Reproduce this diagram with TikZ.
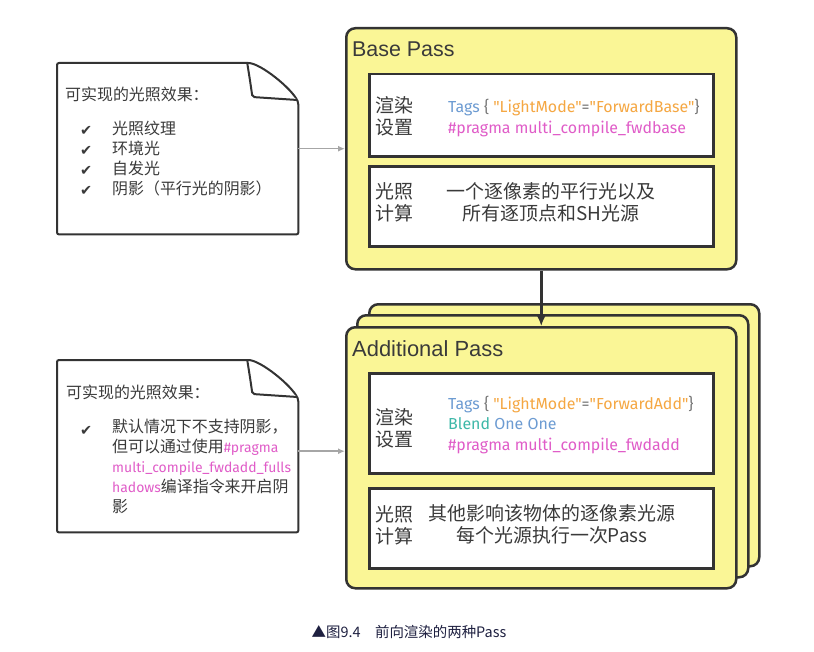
\documentclass[tikz,border=0pt]{standalone}
\usepackage{fontspec}
\usetikzlibrary{arrows.meta}
\setmainfont{Liberation Sans}
\newfontfamily\cjk{Noto Sans CJK SC}
\newfontfamily\codefont{Fira Sans}
\newfontfamily\sym{DejaVu Sans}

\definecolor{linegray}{HTML}{333333}
\definecolor{textgray}{HTML}{3A3A3A}
\definecolor{passyellow}{RGB}{250,246,150}
\definecolor{codeblue}{HTML}{6C9BD2}
\definecolor{codeorange}{HTML}{F5A742}
\definecolor{codepink}{HTML}{E05CC8}
\definecolor{codeteal}{HTML}{3DB8A8}
\definecolor{codegray}{HTML}{777777}
\definecolor{captionblue}{HTML}{1E2040}

% folded paper outline round an empty node
\newcommand{\foldnote}[1]{%
  \draw[noteline] (#1.north west) -- ([shift={(-52,0)}]#1.north east)
    .. controls ([shift={(-38,0)}]#1.north east) and ([shift={(-6,26)}]#1.north east)
    .. ([shift={(0,40)}]#1.north east) -- (#1.south east) -- (#1.south west) -- cycle;
  \draw[noteline] ([shift={(-51,1)}]#1.north east)
    .. controls ([shift={(-48,20)}]#1.north east) .. ([shift={(-46,34)}]#1.north east)
    -- ([shift={(-1,37)}]#1.north east);
}

\begin{document}
\begin{tikzpicture}[x=1bp, y=-1bp,
    passbox/.style={draw=linegray, line width=2.5bp, fill=passyellow,
      rounded corners=9bp, anchor=north west, inner sep=0pt},
    innerbox/.style={draw=linegray, line width=2.5bp, fill=white,
      anchor=north west, inner sep=0pt},
    notebox/.style={anchor=north west, inner sep=0pt},
    noteline/.style={draw=linegray, line width=2bp, fill=white, rounded corners=2bp},
    passtitle/.style={font=\fontsize{21.5}{24}\selectfont, text=textgray,
      anchor=base west, inner sep=0pt},
    sidelabel/.style={font=\cjk\fontsize{19}{22}\selectfont, text=textgray,
      align=left, anchor=west, inner sep=0pt},
    codelines/.style={font=\codefont\fontsize{16}{20.5}\selectfont,
      align=left, anchor=west, inner sep=0pt},
    bodytext/.style={font=\cjk\fontsize{19}{22}\selectfont, text=textgray,
      align=center, inner sep=0pt},
    notetitle/.style={font=\cjk\fontsize{16}{20}\selectfont, text=textgray,
      anchor=west, inner sep=0pt},
    notelist/.style={font=\cjk\fontsize{16}{20}\selectfont, text=textgray,
      align=left, anchor=north west, inner sep=0pt},
    checkmark/.style={font=\sym\fontsize{14.5}{20}\selectfont, text=textgray,
      anchor=west, inner sep=0pt},
    graylink/.style={draw=black!35, line width=1.5bp, -{Latex[length=7bp,width=6bp]}},
    darklink/.style={draw=linegray, line width=3bp, -{Latex[length=12bp,width=11bp]}}
  ]
  \useasboundingbox (0,0) rectangle (814,652);

  % base pass
  \node[passbox, minimum width=390bp, minimum height=241bp] (base) at (345,27) {};
  \node[passtitle] (basetitle) at (352,57) {Base Pass};
  \node[innerbox, minimum width=344bp, minimum height=82bp] (baseset) at (368,73) {};
  \node[innerbox, minimum width=344bp, minimum height=80bp] (baselight) at (368,165) {};
  \node[sidelabel] (basesetlbl) at (375,116) {渲染\\设置};
  \node[codelines] (basecode) at (448,118) {%
    \textcolor{codeblue}{Tags} \textcolor{codegray}{\{} \textcolor{codeorange}{"LightMode"}\textcolor{codegray}{=}\textcolor{codeorange}{"ForwardBase"}\textcolor{codegray}{\}}\\
    \textcolor{codepink}{\#pragma multi\_compile\_fwdbase}};
  \node[sidelabel] (baselightlbl) at (375,202) {光照\\计算};
  \node[bodytext] (baselighttxt) at (551,202) {一个逐像素的平行光以及\\所有逐顶点和SH光源};

  % additional pass, three stacked sheets
  \node[passbox, minimum width=390bp, minimum height=262bp] (addback) at (368,303) {};
  \node[passbox, minimum width=391bp, minimum height=262bp] (addmid) at (356,314) {};
  \node[passbox, minimum width=390bp, minimum height=261bp] (add) at (345,326) {};
  \node[passtitle, font=\fontsize{22}{24}\selectfont] (addtitle) at (352,356) {Additional Pass};
  \node[innerbox, minimum width=344bp, minimum height=100bp] (addset) at (368,372) {};
  \node[innerbox, minimum width=344bp, minimum height=80bp] (addlight) at (368,487) {};
  \node[sidelabel] (addsetlbl) at (375,428) {渲染\\设置};
  \node[codelines] (addcode) at (448,425) {%
    \textcolor{codeblue}{Tags} \textcolor{codegray}{\{} \textcolor{codeorange}{"LightMode"}\textcolor{codegray}{=}\textcolor{codeorange}{"ForwardAdd"}\textcolor{codegray}{\}}\\
    \textcolor{codeteal}{Blend} \textcolor{codeblue}{One One}\\
    \textcolor{codepink}{\#pragma multi\_compile\_fwdadd}};
  \node[sidelabel] (addlightlbl) at (375,525) {光照\\计算};
  \node[bodytext] (addlighttxt) at (552,524) {其他影响该物体的逐像素光源\\每个光源执行一次Pass};

  \draw[darklink] (base.south) -- (add.north);

  % notes
  \node[notebox, minimum width=241bp, minimum height=171bp] (note1) at (57,63) {};
  \foldnote{note1}
  \node[notetitle] (note1title) at (65,94) {可实现的光照效果：};
  \node[checkmark] (check1) at (80,131) {✔};
  \node[checkmark] (check2) at (80,151) {✔};
  \node[checkmark] (check3) at (80,171) {✔};
  \node[checkmark] (check4) at (80,191) {✔};
  \node[notelist] (note1list) at (112,121) {光照纹理\\环境光\\自发光\\阴影（平行光的阴影）};

  \node[notebox, minimum width=241bp, minimum height=172bp] (note2) at (57,360) {};
  \foldnote{note2}
  \node[notetitle] (note2title) at (66,392) {可实现的光照效果：};
  \node[checkmark] (check5) at (80,431) {✔};
  \node[notelist] (note2list) at (112,419) {默认情况下不支持阴影，\\
    但可以通过使用\textcolor{codepink}{\codefont\fontsize{14}{20}\selectfont\#pragma}\\
    \textcolor{codepink}{\codefont\fontsize{14}{20}\selectfont multi\_compile\_fwdadd\_fulls}\\
    \textcolor{codepink}{\codefont\fontsize{14}{20}\selectfont hadows}编译指令来开启阴\\
    影};

  \draw[graylink] (note1.east) -- (note1.east -| base.west);
  \draw[graylink] ([yshift=-5bp]note2.east) -- ([yshift=-5bp]note2.east -| add.west);

  % caption
  \node[font=\cjk\fontsize{14.5}{16}\selectfont, text=captionblue, inner sep=0pt] (caption) at (409,632) {▲图9.4　前向渲染的两种Pass};
\end{tikzpicture}
\end{document}
